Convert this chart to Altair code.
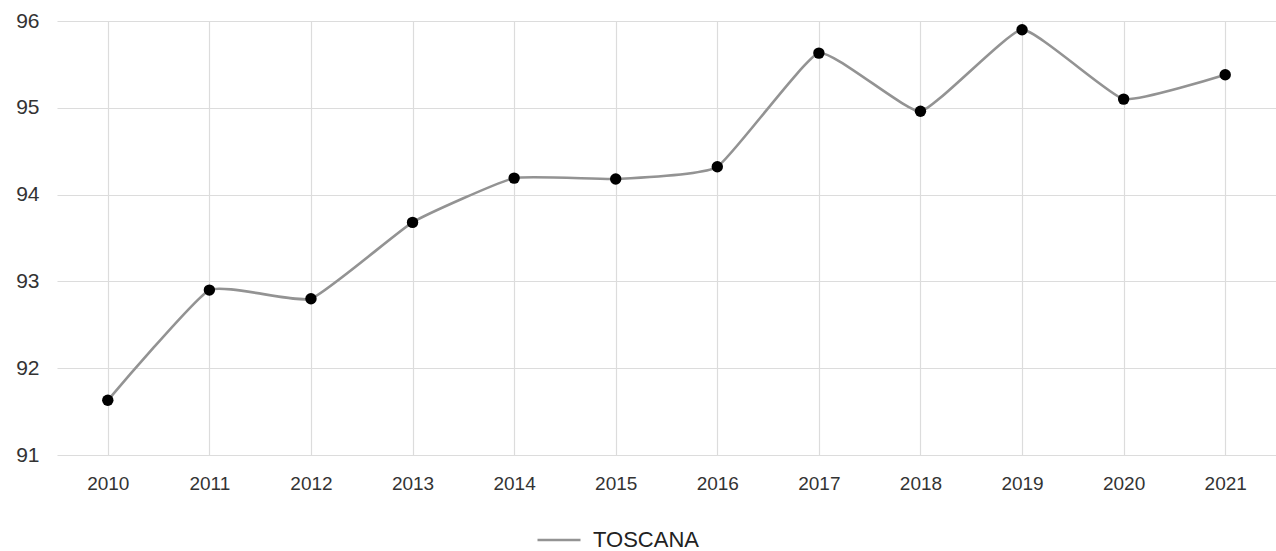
import altair as alt
import pandas as pd

years = ["2010", "2011", "2012", "2013", "2014", "2015",
         "2016", "2017", "2018", "2019", "2020", "2021"]
values = [91.63, 92.90, 92.80, 93.68, 94.19, 94.18,
          94.32, 95.63, 94.96, 95.90, 95.10, 95.38]
series = ["TOSCANA"] * len(years)

df = pd.DataFrame({"anno": years, "valore": values, "regione": series})

FONT = "Liberation Sans"

x = alt.X(
    "anno:O",
    title=None,
    sort=years,
    axis=alt.Axis(
        labelAngle=0, labelFontSize=19, labelColor="#333333", labelFont=FONT,
        labelPadding=19, ticks=False, domain=False, grid=True,
        gridColor="#dcdcdc", gridWidth=1.2,
    ),
)
y = alt.Y(
    "valore:Q",
    title=None,
    scale=alt.Scale(domain=[91, 96], nice=False, zero=False),
    axis=alt.Axis(
        values=[91, 92, 93, 94, 95, 96], format="d",
        labelFontSize=21, labelColor="#333333", labelFont=FONT,
        labelPadding=18, ticks=False, domain=False, grid=True,
        gridColor="#dcdcdc", gridWidth=1.2,
    ),
)

line = alt.Chart(df).mark_line(
    interpolate="cardinal", tension=0.6, strokeWidth=2.6
).encode(
    x=x,
    y=y,
    color=alt.Color(
        "regione:N",
        scale=alt.Scale(domain=["TOSCANA"], range=["#939393"]),
        legend=alt.Legend(
            title=None, orient="none", legendX=479, legendY=496,
            symbolType="stroke", symbolSize=1849, symbolStrokeWidth=2.6,
            labelFontSize=22, labelColor="#222222", labelFont=FONT,
            labelOffset=11,
        ),
    ),
)

points = alt.Chart(df).mark_point(
    filled=True, size=130, color="#000000", opacity=1
).encode(x=x, y=y)

chart = (
    alt.layer(line, points)
    .properties(
        width=1219, height=434,
        background="#ffffff",
        autosize=alt.AutoSizeParams(type="none"),
        padding={"left": 57, "top": 21, "right": 0, "bottom": 96},
    )
    .configure_view(stroke=None)
)

chart.save("out.html", embed_options={"renderer": "svg", "actions": False})
